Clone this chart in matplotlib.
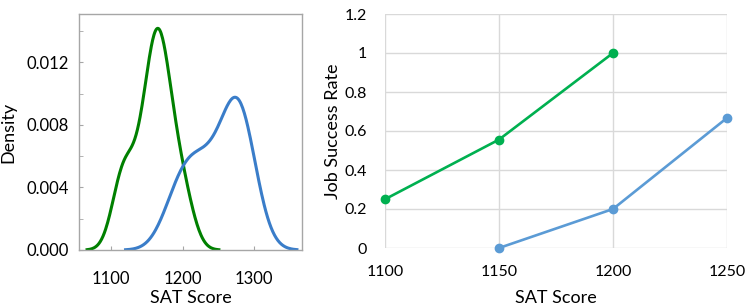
import numpy as np
import matplotlib.pyplot as plt
import seaborn as sns
from matplotlib.ticker import MultipleLocator, FormatStrFormatter

plt.rcParams['font.family'] = ['Lato', 'DejaVu Sans']

# SAT scores of the two groups (density panel)
green_sat = [1110, 1115, 1120, 1125, 1140, 1145, 1150, 1155, 1160, 1160, 1165,
             1165, 1165, 1170, 1170, 1175, 1180, 1185, 1190, 1200, 1207]
blue_sat = [1185, 1200, 1210, 1220, 1235, 1245, 1260, 1270, 1275, 1280, 1280,
            1285, 1295]

# job success rate by SAT score
green_x = [1100, 1150, 1200]
green_rate = [0.25, 0.556, 1.0]
blue_x = [1150, 1200, 1250]
blue_rate = [0.0, 0.2, 0.667]

fig = plt.figure(figsize=(7.47, 3.08), dpi=100)
ax1 = fig.add_axes([79/747, 58/308, 223/747, 236/308])
ax2 = fig.add_axes([385/747, 60/308, 342/747, 234/308])

# left: density
sns.kdeplot(x=green_sat, ax=ax1, color='#008000', lw=2.2)
sns.kdeplot(x=blue_sat, ax=ax1, color='#3a7dc9', lw=2.2)
ax1.set_xlim(1055, 1367)
ax1.set_ylim(0, 0.0151)
ax1.set_xticks([1100, 1200, 1300])
ax1.yaxis.set_major_locator(MultipleLocator(0.004))
ax1.yaxis.set_minor_locator(MultipleLocator(0.002))
ax1.yaxis.set_major_formatter(FormatStrFormatter('%.3f'))
for s in ax1.spines.values():
    s.set_color('#a6a6a6')
    s.set_linewidth(1)
ax1.tick_params(which='both', direction='in', color='#a6a6a6', length=3, labelsize=12)
ax1.tick_params(axis='y', pad=7)
ax1.tick_params(axis='x', pad=15)
ax1.set_xlabel('SAT Score', fontsize=13)
ax1.set_ylabel('Density', fontsize=13)
ax1.xaxis.set_label_coords(0.5, -0.169)
ax1.yaxis.set_label_coords(-0.283, 0.5)

# right: success rate
ax2.plot(green_x, green_rate, color='#00b050', lw=1.9, marker='o', ms=6, clip_on=False, zorder=3)
ax2.plot(blue_x, blue_rate, color='#5b9bd5', lw=1.9, marker='o', ms=6, clip_on=False, zorder=3)
ax2.set_xlim(1100, 1250)
ax2.set_ylim(0, 1.2)
ax2.set_xticks([1100, 1150, 1200, 1250])
ax2.set_yticks([0, 0.2, 0.4, 0.6, 0.8, 1.0, 1.2])
ax2.set_yticklabels(['0', '0.2', '0.4', '0.6', '0.8', '1', '1.2'])
ax2.grid(True, color='#d9d9d9', lw=1)
ax2.set_axisbelow(True)
for s in ax2.spines.values():
    s.set_visible(False)
ax2.tick_params(length=0, labelsize=11.5)
ax2.tick_params(axis='y', pad=13)
ax2.tick_params(axis='x', pad=12)
ax2.set_xlabel('SAT Score', fontsize=13)
ax2.set_ylabel('Job Success Rate', fontsize=13)
ax2.xaxis.set_label_coords(0.5, -0.179)
ax2.yaxis.set_label_coords(-0.129, 0.5)

fig.savefig('out.png', dpi=100)
